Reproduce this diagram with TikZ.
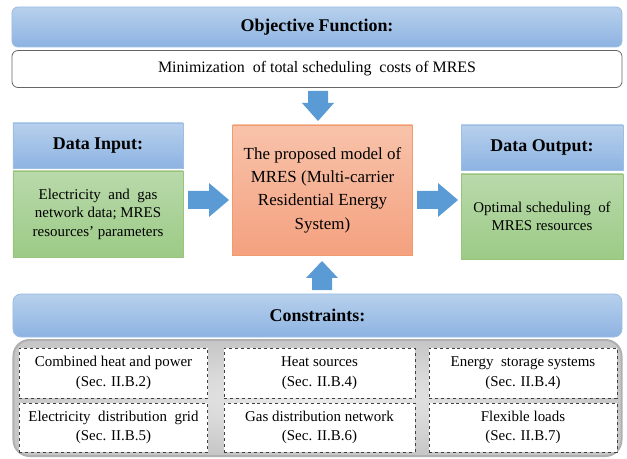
\documentclass[tikz,border=0pt]{standalone}
\usepackage{fontspec}
\setmainfont{Liberation Serif}
\usetikzlibrary{shapes.arrows}
\definecolor{hbtop}{HTML}{B7D0EC}
\definecolor{hbbot}{HTML}{8DB3E2}
\definecolor{hbline}{HTML}{9DBDE3}
\definecolor{grtop}{HTML}{B9D9AB}
\definecolor{grbot}{HTML}{9CCB86}
\definecolor{grline}{HTML}{98C47E}
\definecolor{ortop}{HTML}{F8C3AB}
\definecolor{orbot}{HTML}{F4A17F}
\definecolor{orline}{HTML}{F09A6E}
\definecolor{arrowblue}{HTML}{5B9BD5}
\definecolor{panelline}{HTML}{B0B0B0}
\begin{document}
\begin{tikzpicture}[x=1bp,y=-1bp,
  header/.style={draw=hbline, line width=0.8bp, top color=hbtop, bottom color=hbbot, font=\fontsize{18}{20}\selectfont\bfseries, inner sep=0pt},
  greenbox/.style={draw=grline, line width=0.8bp, top color=grtop, bottom color=grbot, font=\fontsize{15}{18.5}\selectfont, align=center, inner sep=0pt},
  modelbox/.style={draw=orline, line width=0.8bp, top color=ortop, bottom color=orbot, font=\fontsize{17}{23.5}\selectfont, align=center, inner sep=0pt},
  consbox/.style={draw=black!75, dashed, line width=0.7bp, fill=white, font=\fontsize{15}{19.5}\selectfont, align=center, inner sep=0pt},
  bigarrow/.style={fill=arrowblue, draw=none},
]
\useasboundingbox (0,0) rectangle (627,459);
% Objective
\node[header, rounded corners=6bp, minimum width=610bp, minimum height=40bp] (obj) at (317,27) {Objective Function:};
\node[draw=black!60, line width=0.8bp, fill=white, rounded corners=6bp, minimum width=610bp, minimum height=37bp, font=\fontsize{16}{18}\selectfont, inner sep=0pt] (min) at (317,69) {Minimization\ \ of total scheduling\ \ costs of MRES};
% Data input
\node[header, minimum width=170bp, minimum height=45bp] (inh) at (98,145.5) {Data Input:};
\node[greenbox, minimum width=170bp, minimum height=86bp] (inb) at (98,214) {Electricity\ \ and\ \ gas\\ network\ data;\ MRES\\ resources'\ parameters};
% Model
\node[modelbox, minimum width=180bp, minimum height=130bp] (model) at (322.5,190) {The proposed model of\\ MRES (Multi-carrier\\ Residential Energy\\ System)};
% Data output
\node[header, minimum width=162bp, minimum height=45bp] (outh) at (542,147.5) {Data Output:};
\node[greenbox, minimum width=162bp, minimum height=85bp] (outb) at (542,216.5) {Optimal scheduling\ \ of\\ MRES resources};
% Constraints
\node[header, rounded corners=8bp, minimum width=609bp, minimum height=43bp] (cons) at (317.5,315.5) {Constraints:};
\node[draw=panelline, line width=2bp, inner color=black!8, outer color=black!22, rounded corners=16bp, minimum width=608bp, minimum height=116bp] (panel) at (317.5,398) {};
\node[consbox, minimum width=188bp, minimum height=50bp] (c1) at (113.5,373) {Combined heat and power\\ (Sec. II.B.2)};
\node[consbox, minimum width=191bp, minimum height=50bp] (c2) at (319.5,373) {Heat sources\\ (Sec. II.B.4)};
\node[consbox, minimum width=188bp, minimum height=50bp] (c3) at (523,373) {Energy\ \ storage systems\\ (Sec. II.B.4)};
\node[consbox, minimum width=188bp, minimum height=49bp] (c4) at (113.5,427.5) {Electricity\ \ distribution\ \ grid\\ (Sec. II.B.5)};
\node[consbox, minimum width=191bp, minimum height=49bp] (c5) at (319.5,427.5) {Gas distribution network\\ (Sec. II.B.6)};
\node[consbox, minimum width=188bp, minimum height=49bp] (c6) at (523,427.5) {Flexible loads\\ (Sec. II.B.7)};
% Arrows
\coordinate (dtop) at (318,91);
\coordinate (dtip) at (318,121);
\fill[bigarrow] (dtop) ++(-10,0) -- ++(20,0) -- ++(0,12) -- ++(6,0) -- (dtip) -- ++(-16,-18) -- ++(6,0) -- cycle;
\coordinate (utip) at (322,261);
\fill[bigarrow] (utip) -- ++(16,17) -- ++(-6,0) -- ++(0,12) -- ++(-20,0) -- ++(0,-12) -- ++(-6,0) -- cycle;
\coordinate (ltip) at (229,200);
\fill[bigarrow] (ltip) -- ++(-20,-17) -- ++(0,8) -- ++(-21,0) -- ++(0,18) -- ++(21,0) -- ++(0,8) -- cycle;
\coordinate (rtip) at (458,200);
\fill[bigarrow] (rtip) -- ++(-20,-17) -- ++(0,8) -- ++(-21,0) -- ++(0,18) -- ++(21,0) -- ++(0,8) -- cycle;
\end{tikzpicture}
\end{document}
